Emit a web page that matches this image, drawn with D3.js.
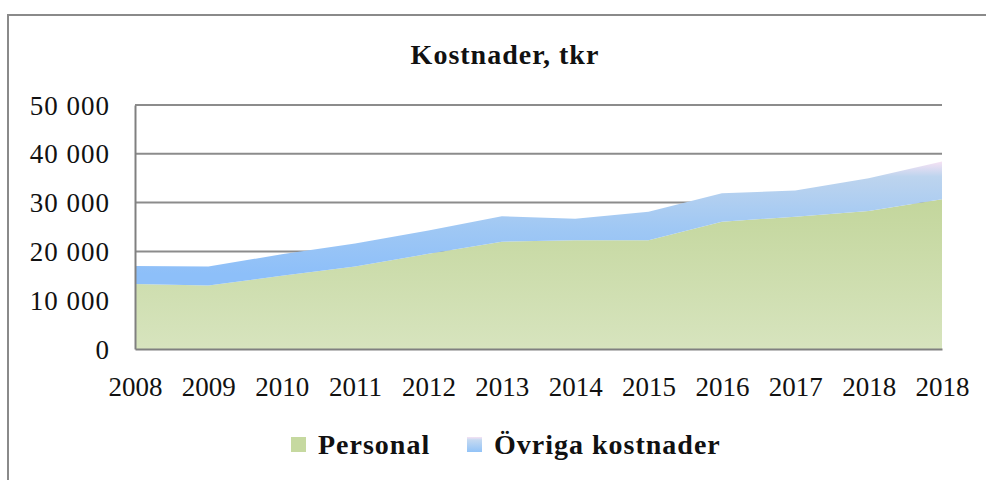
<!DOCTYPE html>
<html>
<head>
<meta charset="utf-8">
<script src="https://cdn.jsdelivr.net/npm/d3@7"></script>
<style>
  body { margin: 0; background: #fff; }
  text { font-family: "Liberation Serif", "DejaVu Serif", serif; fill: #111; }
</style>
</head>
<body>
<div id="chart"></div>
<script>
// data (tkr)
const years = ["2008", "2009", "2010", "2011", "2012", "2013", "2014", "2015", "2016", "2017", "2018", "2018"];
const personal = [13300, 13000, 15000, 16900, 19500, 22000, 22300, 22300, 26100, 27100, 28300, 30700];
const ovriga = [3700, 3900, 4400, 4700, 4800, 5200, 4400, 5800, 5800, 5400, 6700, 7700];
const seriesNames = ["Personal", "Övriga kostnader"];
const yTicks = [0, 10000, 20000, 30000, 40000, 50000];

const W = 986, H = 480;
const margin = { top: 105, right: 44, bottom: 131, left: 135 },
    width = W - margin.left - margin.right,
    height = H - margin.top - margin.bottom;

const svg = d3.select("#chart")
    .append("svg")
    .attr("width", W)
    .attr("height", H);

const defs = svg.append("defs");

// outer frame (only left and top visible)
svg.append("path")
    .attr("d", `M8,${H} L8,15 L${W},15`)
    .attr("fill", "none")
    .attr("stroke", "#8a8a8a")
    .attr("stroke-width", 2);

svg.append("text")
    .attr("x", 505)
    .attr("y", 64)
    .attr("text-anchor", "middle")
    .style("font-size", "28px")
    .style("letter-spacing", "1px")
    .style("font-weight", "bold")
    .text("Kostnader, tkr");

const g = svg.append("g")
    .attr("transform", `translate(${margin.left},${margin.top})`);

const idx = years.map((d, i) => i);
const x = d3.scalePoint()
    .domain(idx)
    .range([0, width]);

const y = d3.scaleLinear()
    .domain([0, 50000])
    .range([height, 0]);

const table = idx.map(i => ({ i: i, personal: personal[i], ovriga: ovriga[i] }));
const stacked = d3.stack().keys(["personal", "ovriga"])(table);

// gradients
const gGreen = defs.append("linearGradient")
    .attr("id", "gGreen")
    .attr("gradientUnits", "userSpaceOnUse")
    .attr("x1", 0).attr("x2", 0)
    .attr("y1", y(d3.max(personal))).attr("y2", height);
gGreen.append("stop").attr("offset", 0).attr("stop-color", "#c3d69c");
gGreen.append("stop").attr("offset", 1).attr("stop-color", "#d7e4be");

const gBlue = defs.append("linearGradient")
    .attr("id", "gBlue")
    .attr("gradientUnits", "userSpaceOnUse")
    .attr("x1", 0).attr("x2", 0)
    .attr("y1", y(d3.max(stacked[1], d => d[1]))).attr("y2", height);
[[0, "#f6e2f4"], [0.08, "#bdd4ee"], [0.35, "#a0c8f4"], [0.6, "#8dbff9"], [1, "#8dbff9"]]
    .forEach(s => gBlue.append("stop").attr("offset", s[0]).attr("stop-color", s[1]));

const gBlueKey = defs.append("linearGradient")
    .attr("id", "gBlueKey")
    .attr("x1", 0).attr("x2", 0).attr("y1", 0).attr("y2", 1);
[[0, "#f6e2f4"], [0.2, "#c4d9f1"], [1, "#92c3f7"]]
    .forEach(s => gBlueKey.append("stop").attr("offset", s[0]).attr("stop-color", s[1]));

// gridlines
g.append("g")
    .selectAll("line")
    .data(yTicks.filter(d => d > 0))
    .join("line")
    .attr("x1", 0)
    .attr("x2", width)
    .attr("y1", d => y(d))
    .attr("y2", d => y(d))
    .attr("stroke", "#8c8c8c")
    .attr("stroke-width", 2);

// areas
const area = d3.area()
    .x(d => x(d.data.i))
    .y0(d => y(d[0]))
    .y1(d => y(d[1]));

const fills = ["url(#gGreen)", "url(#gBlue)"];
g.selectAll(".layer")
    .data(stacked)
    .join("path")
    .attr("class", "layer")
    .attr("d", area)
    .attr("fill", (d, i) => fills[i]);

// axes
const fmt = d3.formatLocale({ decimal: ",", thousands: " ", grouping: [3], currency: ["", " kr"] }).format(",d");

const yAxis = g.append("g")
    .call(d3.axisLeft(y).tickValues(yTicks).tickFormat(fmt).tickSize(0).tickPadding(25));
yAxis.select(".domain").attr("stroke", "#808080").attr("stroke-width", 2);
yAxis.selectAll("text")
    .style("font-size", "27px")
    .style("letter-spacing", "1px")
    .attr("dy", "0.34em");

const xAxis = g.append("g")
    .attr("transform", `translate(0,${height})`)
    .call(d3.axisBottom(x).tickFormat(i => years[i]).tickSize(0).tickPadding(28));
xAxis.select(".domain").attr("stroke", "#808080").attr("stroke-width", 2);
xAxis.selectAll("text")
    .style("font-size", "27px");

// legend
const legend = svg.append("g");
const keys = [
    { name: seriesNames[0], fill: "#c6d9a0", x: 291 },
    { name: seriesNames[1], fill: "url(#gBlueKey)", x: 467 }
];
keys.forEach(k => {
    legend.append("rect")
        .attr("x", k.x)
        .attr("y", 437)
        .attr("width", 15)
        .attr("height", 15)
        .attr("fill", k.fill);
    legend.append("text")
        .attr("x", k.x + 27)
        .attr("y", 454)
        .style("font-size", "28px")
        .style("letter-spacing", "1px")
        .style("font-weight", "bold")
        .text(k.name);
});
</script>
</body>
</html>
